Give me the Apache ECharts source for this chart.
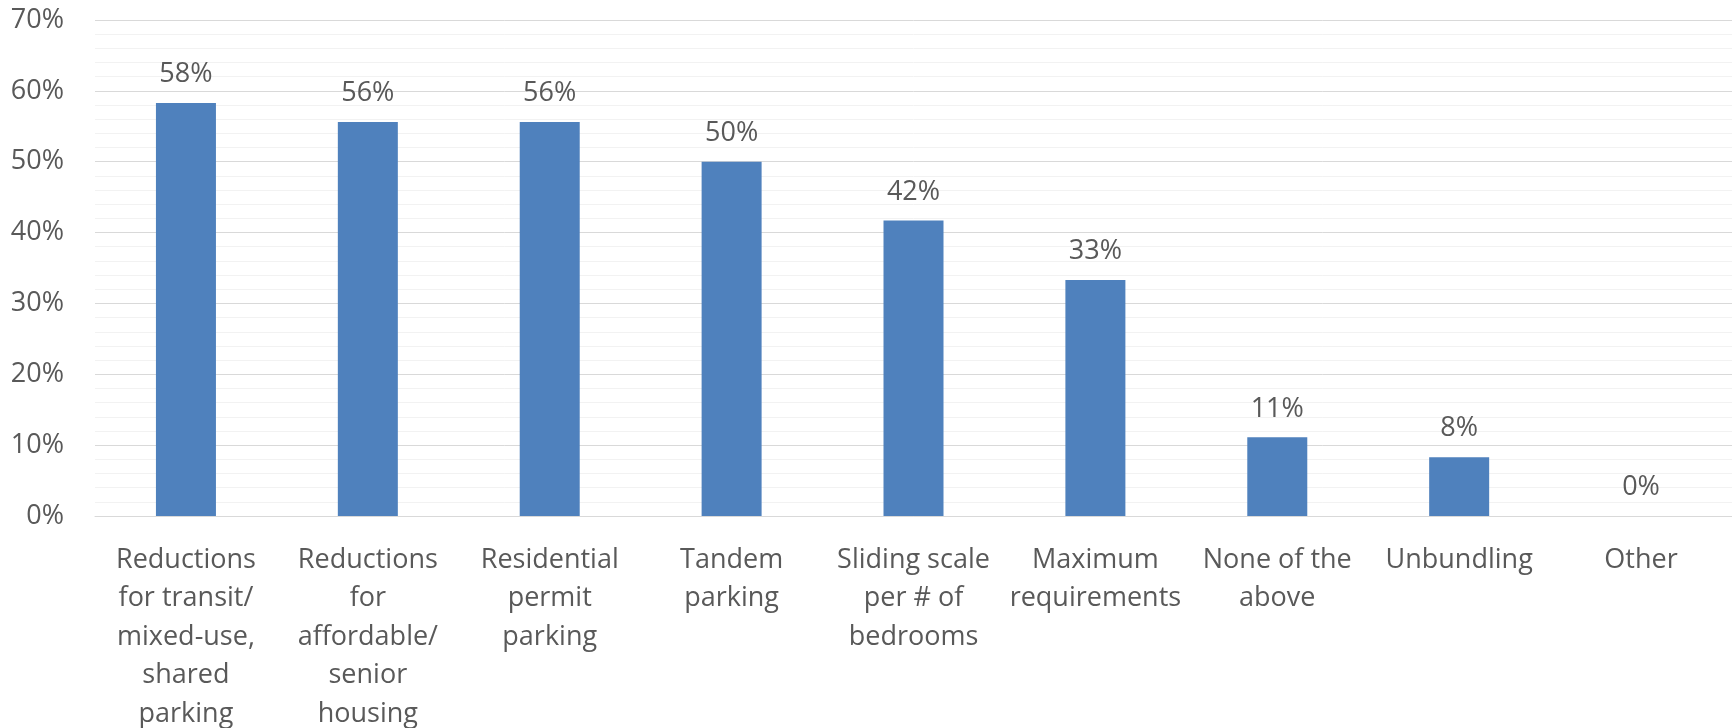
<!DOCTYPE html>
<html>
<head>
<meta charset="utf-8">
<script src="https://cdn.jsdelivr.net/npm/echarts@6/dist/echarts.min.js"></script>
<style>
html,body{margin:0;padding:0;background:#fff;}
#chart{width:1732px;height:728px;}
</style>
</head>
<body>
<div id="chart"></div>
<script>
const categories = [
  "Reductions\nfor transit/\nmixed-use,\nshared\nparking",
  "Reductions\nfor\naffordable/\nsenior\nhousing",
  "Residential\npermit\nparking",
  "Tandem\nparking",
  "Sliding scale\nper # of\nbedrooms",
  "Maximum\nrequirements",
  "None of the\nabove",
  "Unbundling",
  "Other"
];
const values = [58.3, 55.6, 55.6, 50.0, 41.7, 33.3, 11.1, 8.3, 0];
const yTicks = [0, 10, 20, 30, 40, 50, 60, 70];

const FONT = "'Open Sans', 'Liberation Sans', sans-serif";
const TEXT = '#595959';

const chart = echarts.init(document.getElementById('chart'), null, {renderer: 'canvas'});
chart.setOption({
  animation: false,
  backgroundColor: '#ffffff',
  grid: {left: 95, right: 0, top: 20, bottom: 212, containLabel: false, outerBoundsMode: 'none'},
  xAxis: {
    type: 'category',
    data: categories,
    axisLine: {show: true, lineStyle: {color: '#d9d9d9', width: 1}},
    axisTick: {show: false},
    axisLabel: {
      interval: 0, margin: 25, color: TEXT,
      fontFamily: FONT, fontSize: 27, lineHeight: 38.5, align: 'center'
    }
  },
  yAxis: {
    type: 'value',
    min: yTicks[0], max: yTicks[yTicks.length - 1], interval: 10,
    axisLine: {show: false},
    axisTick: {show: false},
    axisLabel: {
      margin: 31, color: TEXT, fontFamily: FONT, fontSize: 27,
      formatter: v => v + '%'
    },
    splitLine: {show: true, lineStyle: {color: '#d9d9d9', width: 1}},
    minorTick: {show: false, splitNumber: 5},
    minorSplitLine: {show: true, lineStyle: {color: '#f2f2f2', width: 1}}
  },
  series: [{
    type: 'bar',
    data: values,
    barWidth: 60,
    itemStyle: {color: '#4f81bd'},
    label: {
      show: true, position: 'top', distance: 15,
      color: TEXT, fontFamily: FONT, fontSize: 27,
      formatter: p => Math.round(p.value) + '%'
    }
  }]
});
</script>
</body>
</html>
